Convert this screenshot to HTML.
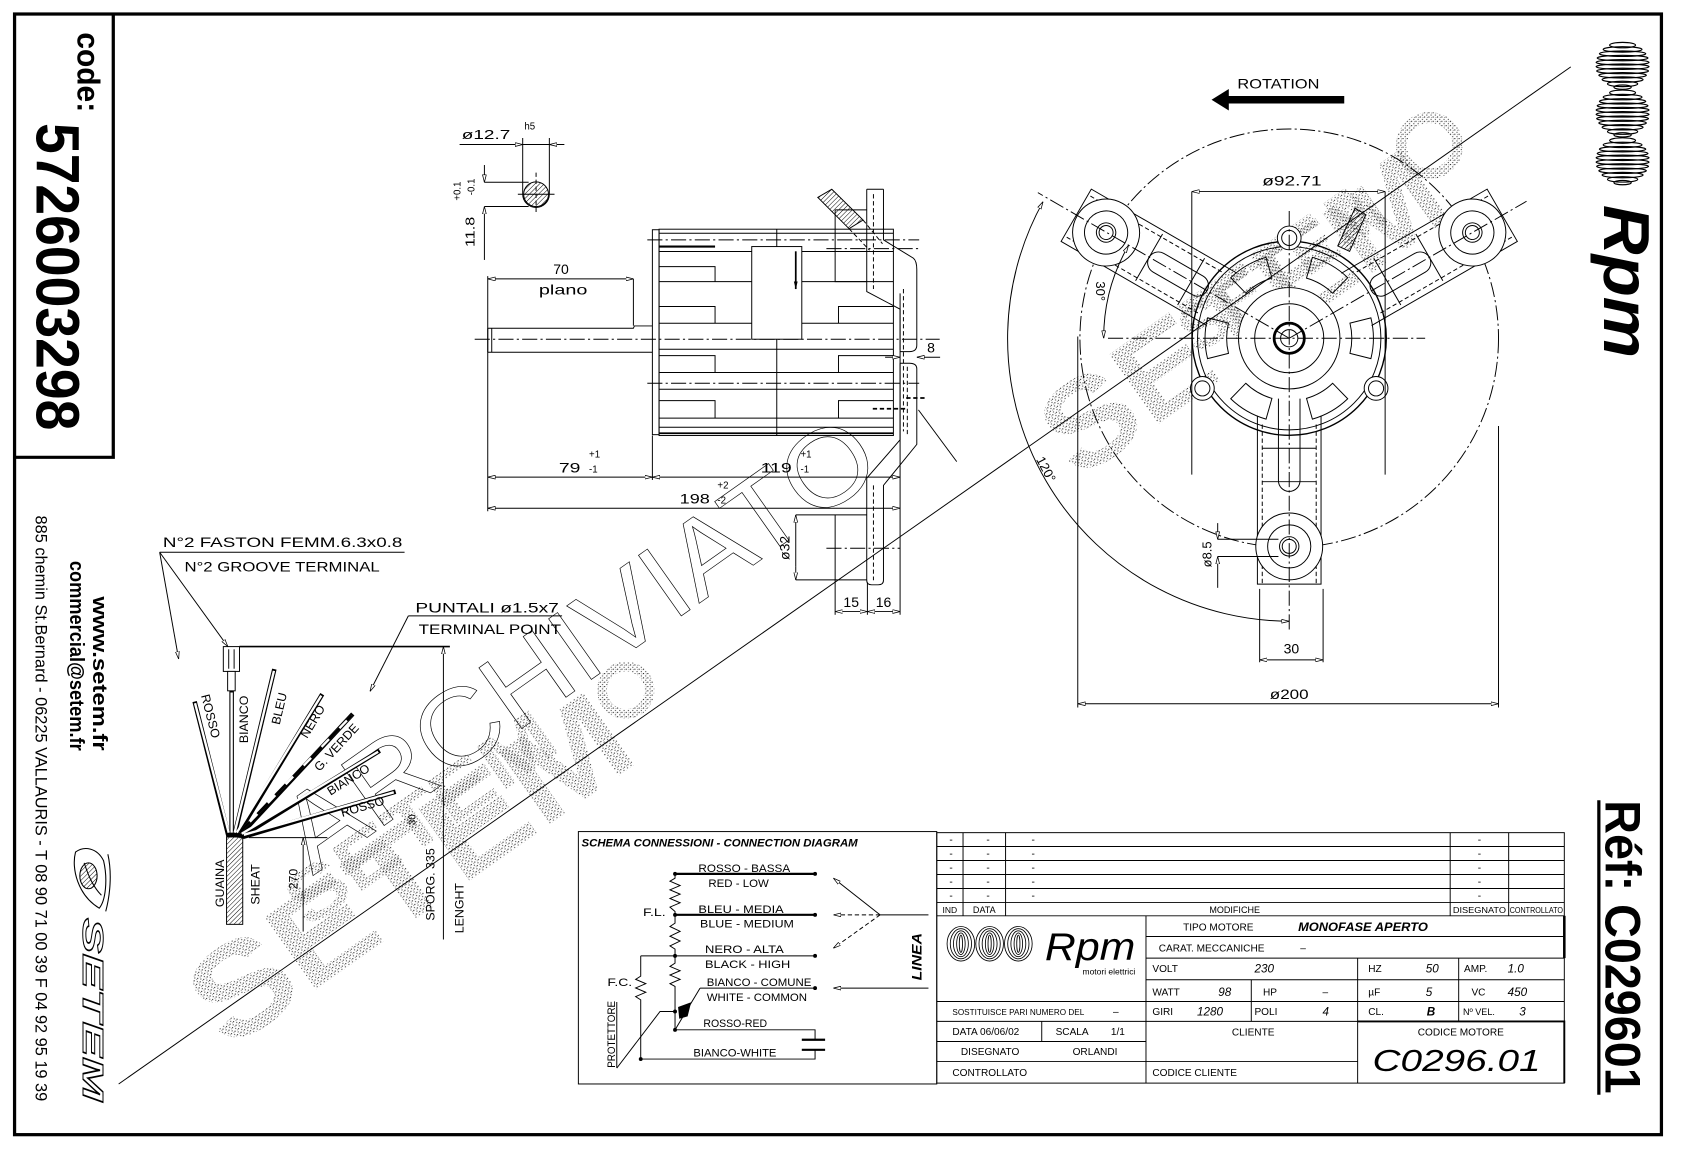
<!DOCTYPE html>
<html><head><meta charset="utf-8">
<style>
html,body{margin:0;padding:0;background:#fff;}
svg{display:block;}
text{font-family:"Liberation Sans",sans-serif;}
.dd{stroke-dasharray:14 3 2 3;}
.ds{stroke-dasharray:4 2.5;}
</style></head>
<body>
<svg xmlns="http://www.w3.org/2000/svg" width="1683" height="1153" viewBox="0 0 1560 1069" preserveAspectRatio="none">
<defs>
<pattern id="dots" width="4" height="4" patternUnits="userSpaceOnUse"><rect x="0" y="0" width="1" height="1" fill="#222"/><rect x="2" y="2.2" width="1" height="1" fill="#444"/><rect x="2.6" y="0.4" width="0.8" height="0.8" fill="#666"/></pattern>
<pattern id="hatch" width="3" height="3" patternUnits="userSpaceOnUse" patternTransform="rotate(45)"><line x1="0" y1="0" x2="0" y2="3" stroke="#000" stroke-width="0.9"/></pattern>
<marker id="ar" viewBox="0 0 10 6" refX="10" refY="3" markerWidth="7" markerHeight="4.2" orient="auto-start-reverse" markerUnits="userSpaceOnUse"><path d="M0,0.5 L10,3 L0,5.5 Z" fill="#fff" stroke="#000" stroke-width="1"/></marker>
<marker id="arf" viewBox="0 0 10 6" refX="10" refY="3" markerWidth="7" markerHeight="4.2" orient="auto-start-reverse" markerUnits="userSpaceOnUse"><path d="M0,0.5 L10,3 L0,5.5 Z" fill="#000"/></marker>
</defs>
<rect width="1560" height="1069" fill="#fff"/>

<!-- stippled watermark -->
<g font-weight="bold" fill="url(#dots)">
<text transform="translate(211,975) rotate(-35.2)" font-size="120" textLength="470" lengthAdjust="spacingAndGlyphs" font-family="Liberation Sans">SETEM</text>
<text transform="translate(285,862) rotate(-35.2)" font-size="70" textLength="290" lengthAdjust="spacingAndGlyphs" font-family="Liberation Sans">SETEM</text>
<text transform="translate(999,446) rotate(-35.2)" font-size="115" textLength="430" lengthAdjust="spacingAndGlyphs" font-family="Liberation Sans">SETEM</text>
<text transform="translate(1110,330) rotate(-35.2)" font-size="60" textLength="220" lengthAdjust="spacingAndGlyphs" font-family="Liberation Sans">SETEM</text>
</g>
<g fill="none" stroke="url(#dots)">
<circle cx="1325" cy="135" r="26" stroke-width="10"/>
<circle cx="580" cy="640" r="22" stroke-width="9"/>
</g>
<!-- outline watermark -->
<text transform="translate(290,812) rotate(-35.2)" font-size="100" textLength="650" lengthAdjust="spacingAndGlyphs" fill="none" stroke="#000" stroke-width="0.6">ARCHIVIATO</text>

<!-- frame -->
<g fill="none" stroke="#000">
<rect x="13.5" y="13" width="1526.5" height="1039" stroke-width="3"/>
<path d="M13.5,424 H105 V13" stroke-width="3"/>
<line x1="110" y1="1005" x2="1456" y2="62" stroke-width="0.9"/>
<line x1="1482" y1="742" x2="1482" y2="1015" stroke-width="3"/>
</g>

<!-- code box texts -->
<g font-weight="bold" fill="#000">
<text transform="translate(72,30) rotate(90)" font-size="29" textLength="74" lengthAdjust="spacingAndGlyphs">code:</text>
<text transform="translate(34,114) rotate(90)" font-size="57" textLength="285" lengthAdjust="spacingAndGlyphs">5726003298</text>
<text transform="translate(86,553) rotate(90)" font-size="19" textLength="143" lengthAdjust="spacingAndGlyphs">www.setem.fr</text>
<text transform="translate(65,520) rotate(90)" font-size="19" textLength="176" lengthAdjust="spacingAndGlyphs">commercial@setem.fr</text>
<text transform="translate(1488,742) rotate(90)" font-size="46" textLength="272" lengthAdjust="spacingAndGlyphs">Réf: C029601</text>
</g>
<text transform="translate(33,478) rotate(90)" font-size="15" textLength="543" lengthAdjust="spacingAndGlyphs" fill="#000">885 chemin St.Bernard - 06225 VALLAURIS - T 08 90 71 00 39  F 04 92 95 19 39</text>
<!-- setem logo -->
<g fill="none" stroke="#000" stroke-width="1">
<path d="M70,790 C66,805 72,830 92,842 C98,835 100,815 96,798 C90,786 78,784 70,790 Z"/>
<path d="M78,800 C82,812 86,822 94,830" />
<ellipse cx="82" cy="812" rx="8" ry="12" fill="url(#hatch)"/>
<path d="M100,792 C104,810 102,830 98,845"/>
</g>
<text transform="translate(77,851) rotate(90)" font-size="27" font-style="italic" font-weight="bold" textLength="170" lengthAdjust="spacingAndGlyphs" fill="#fff" stroke="#000" stroke-width="0.9">SETEM</text>

<!-- Rpm logo top right -->
<g fill="none" stroke="#000" stroke-width="1.1">
<g transform="translate(1504,60.8)">
<ellipse cx="0" cy="-19" rx="12" ry="2.5"/><ellipse cx="0" cy="-15" rx="18" ry="2.5"/><ellipse cx="0" cy="-11" rx="21.5" ry="2.5"/><ellipse cx="0" cy="-7" rx="23.5" ry="2.5"/><ellipse cx="0" cy="-3" rx="24.5" ry="2.5"/><ellipse cx="0" cy="1" rx="24.5" ry="2.5"/><ellipse cx="0" cy="5" rx="24" ry="2.5"/><ellipse cx="0" cy="9" rx="22" ry="2.5"/><ellipse cx="0" cy="13" rx="19" ry="2.5"/><ellipse cx="0" cy="17" rx="14" ry="2.5"/><ellipse cx="0" cy="20" rx="8" ry="2"/>
</g>
<g transform="translate(1504,105)">
<ellipse cx="0" cy="-19" rx="12" ry="2.5"/><ellipse cx="0" cy="-15" rx="18" ry="2.5"/><ellipse cx="0" cy="-11" rx="21.5" ry="2.5"/><ellipse cx="0" cy="-7" rx="23.5" ry="2.5"/><ellipse cx="0" cy="-3" rx="24.5" ry="2.5"/><ellipse cx="0" cy="1" rx="24.5" ry="2.5"/><ellipse cx="0" cy="5" rx="24" ry="2.5"/><ellipse cx="0" cy="9" rx="22" ry="2.5"/><ellipse cx="0" cy="13" rx="19" ry="2.5"/><ellipse cx="0" cy="17" rx="14" ry="2.5"/><ellipse cx="0" cy="20" rx="8" ry="2"/>
</g>
<g transform="translate(1504,149.3)">
<ellipse cx="0" cy="-19" rx="12" ry="2.5"/><ellipse cx="0" cy="-15" rx="18" ry="2.5"/><ellipse cx="0" cy="-11" rx="21.5" ry="2.5"/><ellipse cx="0" cy="-7" rx="23.5" ry="2.5"/><ellipse cx="0" cy="-3" rx="24.5" ry="2.5"/><ellipse cx="0" cy="1" rx="24.5" ry="2.5"/><ellipse cx="0" cy="5" rx="24" ry="2.5"/><ellipse cx="0" cy="9" rx="22" ry="2.5"/><ellipse cx="0" cy="13" rx="19" ry="2.5"/><ellipse cx="0" cy="17" rx="14" ry="2.5"/><ellipse cx="0" cy="20" rx="8" ry="2"/>
</g>
</g>
<text transform="translate(1487,190) rotate(90)" font-family="Liberation Serif" font-style="italic" font-weight="bold" font-size="60" textLength="142" lengthAdjust="spacingAndGlyphs" fill="#000">Rpm</text>

<!-- ===== shaft detail ø12.7 ===== -->
<g fill="none" stroke="#000" stroke-width="0.9">
<line x1="426" y1="134" x2="523" y2="134"/>
<line x1="470" y1="134" x2="484.5" y2="134" marker-end="url(#ar)"/>
<line x1="523" y1="134" x2="509.2" y2="134" marker-end="url(#ar)"/>
<path d="M484.5,128 V180 A12.35,12.35 0 0 0 509.2,180 V128"/>
<circle cx="496.9" cy="180.1" r="11.5" fill="url(#hatch)"/>
<line x1="496.9" y1="160" x2="496.9" y2="198" class="ds"/>
<line x1="480" y1="180.1" x2="514" y2="180.1"/>
<line x1="449" y1="169" x2="490" y2="169"/>
<line x1="449" y1="191.5" x2="490" y2="191.5"/>
<line x1="449" y1="153" x2="449" y2="169" marker-end="url(#ar)"/>
<line x1="449" y1="241" x2="449" y2="191.5" marker-end="url(#ar)"/>
</g>
<g fill="#000" font-size="12">
<text x="428" y="129" textLength="45" lengthAdjust="spacingAndGlyphs">ø12.7</text>
<text x="486" y="120" font-size="9">h5</text>
<text transform="translate(440,229) rotate(-90)" textLength="28" lengthAdjust="spacingAndGlyphs">11.8</text>
<text transform="translate(427,186) rotate(-90)" font-size="9">+0.1</text>
<text transform="translate(440,181) rotate(-90)" font-size="9">-0.1</text>
</g>

<!-- ===== side view motor ===== -->
<g fill="none" stroke="#000" stroke-width="0.9">
<path d="M452.1,304.3 H587.1 L588,302.2 H604.7 M452.1,326.6 H604.7 M452.1,304.3 V326.6 M455.8,304.3 V326.6"/>
<line x1="440" y1="314.5" x2="871" y2="314.5" class="dd"/>
<line x1="452.1" y1="258.6" x2="587.1" y2="258.6" marker-start="url(#ar)" marker-end="url(#ar)"/>
<line x1="587.1" y1="258.6" x2="587.1" y2="302"/>
<line x1="452.1" y1="256" x2="452.1" y2="474"/>
<rect x="604.7" y="213" width="6.2" height="190"/>
<rect x="610.9" y="212.5" width="217.2" height="191.3"/>
<line x1="610.9" y1="216.3" x2="828.1" y2="216.3"/>
<line x1="600" y1="222.4" x2="852" y2="222.4" class="dd"/>
<line x1="600" y1="355.3" x2="852" y2="355.3" class="dd"/>
<line x1="610.9" y1="228.6" x2="662.8" y2="228.6" stroke-width="2"/>
<line x1="610.9" y1="233.2" x2="828.1" y2="233.2"/>
<line x1="610.9" y1="261.1" x2="828.1" y2="261.1"/>
<line x1="610.9" y1="299.7" x2="828.1" y2="299.7"/>
<line x1="610.9" y1="323.8" x2="828.1" y2="323.8"/>
<line x1="610.9" y1="345.4" x2="828.1" y2="345.4"/>
<line x1="610.9" y1="360.9" x2="828.1" y2="360.9"/>
<line x1="610.9" y1="387.7" x2="828.1" y2="387.7"/>
<line x1="610.9" y1="396.1" x2="828.1" y2="396.1"/>
<line x1="610.9" y1="401.7" x2="828.1" y2="401.7" stroke-width="1.6"/>
<path d="M610.9,247.2 H662.8 V261.1"/>
<path d="M610.9,284.2 H662.8 V299.7"/>
<path d="M610.9,329.7 H662.8 V345.4"/>
<path d="M610.9,371.4 H662.8 V387.7"/>
<path d="M828.1,284.2 H777.2 V299.7"/>
<path d="M828.1,329.7 H777.2 V345.4"/>
<path d="M828.1,371.4 H777.2 V387.7"/>
<line x1="720" y1="212.5" x2="720" y2="403.8"/>
<rect x="696.8" y="228.6" width="46.4" height="85.9" fill="#fff"/>
<line x1="737.6" y1="233" x2="737.6" y2="268" stroke-width="1.6" marker-end="url(#arf)"/>
<path d="M803.4,175.5 H818.9 M803.4,175.5 V270.3 L834.3,286.7 V324.4"/>
<path d="M818.9,175.5 V222.4 L846.7,239.4 Q849.8,242 849.8,250 V320 Q849.8,326 843,326 H834.3"/>
<line x1="809.6" y1="180" x2="809.6" y2="268" class="ds"/>
<path d="M834.3,336.8 V407.8 L803.4,443.4 V538 Q803.4,542.2 808,542.2 H814 Q818.9,542.2 818.9,538 V450 L849.8,412 V342 Q849.8,336.8 843,336.8 H834.3"/>
<line x1="841" y1="340" x2="841" y2="405" class="ds"/>
<line x1="809.6" y1="450" x2="809.6" y2="538" class="ds"/>
<line x1="837.4" y1="268" x2="837.4" y2="400" class="ds"/>
<line x1="834.3" y1="272" x2="834.3" y2="570"/>
<path d="M774.1,194.6 V261.1 H803.4 M774.1,194.6 H803.4"/>
<line x1="766" y1="230.5" x2="852" y2="230.5" class="dd"/>
<polygon points="758,183 771,175.5 800,204 787,212" fill="url(#hatch)"/>
<line x1="787" y1="212" x2="806" y2="232" class="ds"/>
<line x1="800" y1="204" x2="818" y2="226" class="ds"/>
<line x1="820.4" y1="331.2" x2="834.3" y2="331.2" marker-end="url(#ar)"/>
<line x1="871.4" y1="331.2" x2="849.8" y2="331.2" marker-end="url(#ar)"/>
<line x1="851.3" y1="380" x2="886.8" y2="428"/>
<line x1="840" y1="369" x2="857" y2="369" stroke-width="1.6" class="ds"/>
<line x1="809" y1="379" x2="840" y2="379" stroke-width="1.6" class="ds"/>
<line x1="452.1" y1="442.4" x2="604.7" y2="442.4" marker-start="url(#ar)" marker-end="url(#ar)"/>
<line x1="604.7" y1="442.4" x2="834.3" y2="442.4" marker-start="url(#ar)" marker-end="url(#ar)"/>
<line x1="452.1" y1="471.2" x2="834.3" y2="471.2" marker-start="url(#ar)" marker-end="url(#ar)"/>
<line x1="604.7" y1="403.8" x2="604.7" y2="445"/>
<line x1="737.6" y1="477.4" x2="803.4" y2="477.4"/>
<line x1="737.6" y1="537.6" x2="803.4" y2="537.6"/>
<line x1="737.6" y1="490" x2="737.6" y2="477.4" marker-end="url(#ar)"/>
<line x1="737.6" y1="525" x2="737.6" y2="537.6" marker-end="url(#ar)"/>
<line x1="737.6" y1="490" x2="737.6" y2="525"/>
<line x1="774.1" y1="477.4" x2="774.1" y2="570"/>
<line x1="766" y1="508.3" x2="834.3" y2="508.3" class="dd"/>
<line x1="774.1" y1="567" x2="804" y2="567" marker-start="url(#ar)" marker-end="url(#ar)"/>
<line x1="804" y1="567" x2="834.3" y2="567" marker-start="url(#ar)" marker-end="url(#ar)"/>
<line x1="804" y1="540" x2="804" y2="570"/>
</g>
<g fill="#000" font-size="13">
<text x="520" y="254" text-anchor="middle">70</text>
<text x="522" y="273" text-anchor="middle" textLength="45" lengthAdjust="spacingAndGlyphs">plano</text>
<text x="863" y="327" text-anchor="middle">8</text>
<text x="538" y="438" text-anchor="end" textLength="20" lengthAdjust="spacingAndGlyphs">79</text>
<text x="546" y="424" font-size="9">+1</text><text x="546" y="438" font-size="9">-1</text>
<text x="734" y="438" text-anchor="end" textLength="29" lengthAdjust="spacingAndGlyphs">119</text>
<text x="742" y="424" font-size="9">+1</text><text x="742" y="438" font-size="9">-1</text>
<text x="658" y="467" text-anchor="end" textLength="28" lengthAdjust="spacingAndGlyphs">198</text>
<text x="665" y="453" font-size="9">+2</text><text x="665" y="467" font-size="9">-2</text>
<text transform="translate(732,508) rotate(-90)" text-anchor="middle">ø32</text>
<text x="789" y="563" text-anchor="middle">15</text>
<text x="819" y="563" text-anchor="middle">16</text>
</g>

<!-- ===== end view ===== -->
<g fill="none" stroke="#000" stroke-width="0.9">
<g transform="translate(1195,313.6)">
<circle r="194" class="dd"/>
<g transform="rotate(210)">
<path d="M72,-28 H228 V28 H72"/>
<line x1="85" y1="-22" x2="228" y2="-22" class="ds"/><line x1="85" y1="22" x2="228" y2="22" class="ds"/>
<path d="M98,-10 H140 A10,10 0 0 1 140,10 H98 A10,10 0 0 1 98,-10 Z"/>
<line x1="105" y1="-25" x2="105" y2="25"/><line x1="150" y1="-25" x2="150" y2="25"/>
<circle cx="196" r="31" fill="#fff"/><circle cx="196" r="20"/><circle cx="196" r="9"/><circle cx="196" r="6.5"/>
</g>
<g transform="rotate(-30)">
<path d="M72,-28 H228 V28 H72"/>
<line x1="85" y1="-22" x2="228" y2="-22" class="ds"/><line x1="85" y1="22" x2="228" y2="22" class="ds"/>
<path d="M98,-10 H140 A10,10 0 0 1 140,10 H98 A10,10 0 0 1 98,-10 Z"/>
<line x1="105" y1="-25" x2="105" y2="25"/><line x1="150" y1="-25" x2="150" y2="25"/>
<circle cx="196" r="31" fill="#fff"/><circle cx="196" r="20"/><circle cx="196" r="9"/><circle cx="196" r="6.5"/>
</g>
<g transform="rotate(90)">
<path d="M72,-29.5 H228 V29.5 H72"/>
<line x1="80" y1="-25" x2="228" y2="-25" class="ds"/><line x1="80" y1="25" x2="228" y2="25" class="ds"/>
<path d="M56,-10 H132 A10,10 0 0 1 132,10 H56"/>
<line x1="102" y1="-25" x2="102" y2="25"/><line x1="133" y1="-25" x2="133" y2="25"/>
<circle cx="193" r="31" fill="#fff"/><circle cx="193" r="20"/><circle cx="193" r="9"/><circle cx="193" r="6.5"/>
</g>
<circle r="90" stroke-width="1.3"/>
<circle r="85"/>
<g>
<path transform="rotate(0)" d="M56.3,-14 A58,58 0 0 1 56.3,14 L75.7,18.9 A78,78 0 0 0 75.7,-18.9 Z"/>
<path transform="rotate(60)" d="M56.3,-14 A58,58 0 0 1 56.3,14 L75.7,18.9 A78,78 0 0 0 75.7,-18.9 Z"/>
<path transform="rotate(120)" d="M56.3,-14 A58,58 0 0 1 56.3,14 L75.7,18.9 A78,78 0 0 0 75.7,-18.9 Z"/>
<path transform="rotate(180)" d="M56.3,-14 A58,58 0 0 1 56.3,14 L75.7,18.9 A78,78 0 0 0 75.7,-18.9 Z"/>
<path transform="rotate(240)" d="M56.3,-14 A58,58 0 0 1 56.3,14 L75.7,18.9 A78,78 0 0 0 75.7,-18.9 Z"/>
<path transform="rotate(300)" d="M56.3,-14 A58,58 0 0 1 56.3,14 L75.7,18.9 A78,78 0 0 0 75.7,-18.9 Z"/>
</g>
<circle r="47" fill="#fff"/>
<circle r="32"/>
<circle r="14" stroke-width="2.6"/>
<circle r="8"/>
<circle cx="0" cy="-93" r="11" fill="#fff"/><circle cx="0" cy="-93" r="7"/>
<circle cx="-80.5" cy="46.5" r="11" fill="#fff"/><circle cx="-80.5" cy="46.5" r="7"/>
<circle cx="80.5" cy="46.5" r="11" fill="#fff"/><circle cx="80.5" cy="46.5" r="7"/>
<line x1="-168" y1="0" x2="126" y2="0" class="dd"/>
<line x1="0" y1="-118" x2="0" y2="270" class="dd"/>
<line x1="0" y1="0" x2="-233" y2="-135" class="dd"/>
<line x1="0" y1="0" x2="220" y2="-127" class="dd"/>
</g>
<line x1="1104.7" y1="177.6" x2="1104.7" y2="440"/>
<line x1="1283.9" y1="177.6" x2="1283.9" y2="440"/>
<line x1="1104.7" y1="177.6" x2="1283.9" y2="177.6" marker-start="url(#ar)" marker-end="url(#ar)"/>
<line x1="999" y1="312" x2="999" y2="656"/>
<line x1="1389" y1="395" x2="1389" y2="656"/>
<line x1="999" y1="652.5" x2="1389" y2="652.5" marker-start="url(#ar)" marker-end="url(#ar)"/>
<line x1="1167.6" y1="546" x2="1167.6" y2="614"/>
<line x1="1226.4" y1="546" x2="1226.4" y2="614"/>
<line x1="1167.6" y1="611.8" x2="1226.4" y2="611.8" marker-start="url(#ar)" marker-end="url(#ar)"/>
<line x1="1128.7" y1="500" x2="1185" y2="500"/>
<line x1="1128.7" y1="516" x2="1185" y2="516"/>
<line x1="1128.7" y1="485" x2="1128.7" y2="500" marker-end="url(#ar)"/>
<line x1="1128.7" y1="545" x2="1128.7" y2="516" marker-end="url(#ar)"/>
<path d="M966.8,187 A262,262 0 0 0 1195,576" marker-start="url(#ar)" marker-end="url(#ar)"/>
<path d="M1023,313.6 A172,172 0 0 1 1046,227.6" marker-start="url(#ar)" marker-end="url(#ar)"/>
<polygon points="1240,228 1251,233 1266,199 1256,193" fill="url(#hatch)"/>
<polygon points="1123,92.5 1139,82.5 1139,89 1246,89 1246,96 1139,96 1139,102.5" fill="#000" stroke="none"/>
</g>
<g fill="#000" font-size="13">
<text x="1147" y="82" textLength="76" lengthAdjust="spacingAndGlyphs">ROTATION</text>
<text x="1170" y="172" textLength="55" lengthAdjust="spacingAndGlyphs">ø92.71</text>
<text x="1195" y="648" text-anchor="middle" textLength="36" lengthAdjust="spacingAndGlyphs">ø200</text>
<text x="1197" y="606" text-anchor="middle">30</text>
<text transform="translate(1123,514) rotate(-90)" text-anchor="middle" font-size="12">ø8.5</text>
<text transform="translate(1016,270) rotate(90)" text-anchor="middle" font-size="12">30°</text>
<text transform="translate(966,437) rotate(62)" text-anchor="middle" font-size="12">120°</text>
</g>

<!-- ===== harness ===== -->
<g fill="none" stroke="#000" stroke-width="0.9">
<line x1="148" y1="512" x2="375" y2="512"/>
<line x1="148" y1="512" x2="165.6" y2="611" marker-end="url(#ar)"/>
<line x1="148" y1="512" x2="211.2" y2="599.5" marker-end="url(#ar)"/>
<line x1="378.5" y1="571" x2="521" y2="571"/>
<line x1="378.5" y1="571" x2="343" y2="641" marker-end="url(#ar)"/>
<line x1="222" y1="599.5" x2="417" y2="599.5" stroke-width="1.5"/>
<line x1="411" y1="871" x2="411" y2="599.5" marker-end="url(#ar)"/>
<rect x="207" y="599.5" width="15" height="23" fill="#fff"/>
<line x1="212" y1="602" x2="212" y2="620"/><line x1="217" y1="602" x2="217" y2="620"/>
<rect x="211" y="622.5" width="7" height="18" fill="#fff"/>
<line x1="230.7" y1="776.6" x2="303.4" y2="776.6"/>
<line x1="281" y1="863.7" x2="281" y2="776.6" marker-end="url(#ar)"/>
</g>
<g stroke-linecap="butt">
<g stroke="#000" stroke-width="4.2">
<line x1="212" y1="776" x2="180.4" y2="650.5"/>
<line x1="214.7" y1="776" x2="214.7" y2="640.5"/>
<line x1="217" y1="776" x2="254.3" y2="620.4"/>
<line x1="219" y1="776" x2="298.7" y2="643.6"/>
<line x1="221" y1="776" x2="327" y2="662"/>
<line x1="223" y1="776" x2="352" y2="696"/>
<line x1="225" y1="776" x2="366.7" y2="734"/>
</g>
<g stroke="#fff" stroke-width="2.2">
<line x1="212" y1="772" x2="180.8" y2="652"/>
<line x1="214.7" y1="772" x2="214.7" y2="642"/>
<line x1="217.5" y1="772" x2="253.9" y2="622"/>
<line x1="219.5" y1="772" x2="297.8" y2="645"/>
<line x1="222" y1="772" x2="326" y2="663.3"/>
<line x1="224" y1="773" x2="350.5" y2="697"/>
<line x1="226" y1="774" x2="365" y2="734.6"/>
</g>
<line x1="222" y1="772" x2="326" y2="663.3" stroke="#000" stroke-width="2.4" stroke-dasharray="14 10"/>
</g>
<rect x="210" y="776" width="15" height="81" fill="url(#hatch)" stroke="#000" stroke-width="0.9"/>
<g fill="#000" font-size="12.5">
<text x="151" y="507" textLength="222" lengthAdjust="spacingAndGlyphs">N°2 FASTON FEMM.6.3x0.8</text>
<text x="171" y="530" textLength="181" lengthAdjust="spacingAndGlyphs">N°2 GROOVE TERMINAL</text>
<text x="385" y="568" textLength="133" lengthAdjust="spacingAndGlyphs">PUNTALI ø1.5x7</text>
<text x="388" y="588" textLength="132" lengthAdjust="spacingAndGlyphs">TERMINAL POINT</text>
<g font-size="11.5" text-anchor="middle" dominant-baseline="central">
<text transform="translate(195,664) rotate(75.7)">ROSSO</text>
<text transform="translate(226,667) rotate(-90)">BIANCO</text>
<text transform="translate(259,657) rotate(-77)">BLEU</text>
<text transform="translate(290,669) rotate(-59.3)">NERO</text>
<text transform="translate(312,693) rotate(-47.4)">G. VERDE</text>
<text transform="translate(323,723) rotate(-32)">BIANCO</text>
<text transform="translate(336,748) rotate(-16.6)">ROSSO</text>
<text transform="translate(204,819) rotate(-90)">GUAINA</text>
<text transform="translate(237,820) rotate(-90)">SHEAT</text>
<text transform="translate(272,815) rotate(-90)">270</text>
<text transform="translate(399,820) rotate(-90)">SPORG. 335</text>
<text transform="translate(383,760) rotate(-90)" font-size="9">30</text>
<text transform="translate(426,842) rotate(-90)">LENGHT</text>
</g>
</g>

<!-- ===== connection diagram ===== -->
<g fill="none" stroke="#000" stroke-width="0.9">
<rect x="536.1" y="771" width="332.2" height="234"/>
<line x1="625.7" y1="810.2" x2="755.5" y2="810.2" stroke-width="2"/>
<line x1="625.7" y1="848.2" x2="755.5" y2="848.2" stroke-width="2"/>
<line x1="593.9" y1="886.2" x2="755.5" y2="886.2"/>
<line x1="648.9" y1="916.1" x2="755.5" y2="916.1"/>
<path d="M625.7,810.2 V814.2 L621,817 L630.4,821 L621,825 L630.4,829 L621,833 L630.4,837 L621,841 L625.7,845.1 V848.2"/>
<path d="M625.7,848.2 V855.9 L621,859 L630.4,863.5 L621,868 L630.4,872.5 L621,877 L625.7,880 V888.3"/>
<path d="M625.7,886.2 V893 L621,896 L630.4,900 L621,904 L630.4,908 L621,912 L625.7,914.6 V954.8"/>
<path d="M593.9,886.2 V905 L589.2,908 L598.6,912 L589.2,916 L598.6,920 L589.2,924 L593.9,927 V981.9 H755.5 V973.3"/>
<path d="M625.7,954.8 H755.5 V964"/>
<line x1="743.2" y1="964" x2="764.8" y2="964" stroke-width="2"/>
<line x1="743.2" y1="973.3" x2="764.8" y2="973.3" stroke-width="2"/>
<path d="M571.7,990.3 L611.8,937.8 H625.7"/>
<line x1="625.7" y1="954.8" x2="648.9" y2="916.1"/>
<polygon points="629,934 640,930 637,942 630,944" fill="#000"/>
<line x1="571.7" y1="929" x2="571.7" y2="990"/>
<line x1="815.8" y1="848.2" x2="860.6" y2="848.2"/>
<line x1="815.8" y1="848.2" x2="772.5" y2="814.2" marker-end="url(#ar)"/>
<line x1="815.8" y1="848.2" x2="772.5" y2="848.2" class="ds" marker-end="url(#ar)"/>
<line x1="815.8" y1="848.2" x2="772.5" y2="879.1" class="ds" marker-end="url(#ar)"/>
<line x1="860.6" y1="916.1" x2="772.5" y2="916.1" marker-end="url(#ar)"/>
</g>
<g fill="#000">
<circle cx="625.7" cy="810.2" r="1.8"/><circle cx="755.5" cy="810.2" r="1.8"/>
<circle cx="625.7" cy="848.2" r="1.8"/><circle cx="755.5" cy="848.2" r="1.8"/>
<circle cx="625.7" cy="886.2" r="1.8"/><circle cx="755.5" cy="886.2" r="1.8"/>
<circle cx="755.5" cy="916.1" r="1.8"/><circle cx="625.7" cy="937.8" r="1.8"/>
<circle cx="625.7" cy="954.8" r="1.8"/><circle cx="593.9" cy="981.9" r="1.8"/>
<text x="539" y="785" font-family="Liberation Serif" font-style="italic" font-weight="bold" font-size="10.5" textLength="256" lengthAdjust="spacingAndGlyphs">SCHEMA CONNESSIONI - CONNECTION DIAGRAM</text>
<g font-size="10.5">
<text x="647.4" y="808.5" textLength="85" lengthAdjust="spacingAndGlyphs">ROSSO - BASSA</text>
<text x="656.6" y="822.5" textLength="56" lengthAdjust="spacingAndGlyphs">RED - LOW</text>
<text x="647.4" y="846.5" textLength="79" lengthAdjust="spacingAndGlyphs">BLEU - MEDIA</text>
<text x="648.9" y="860" textLength="87" lengthAdjust="spacingAndGlyphs">BLUE - MEDIUM</text>
<text x="653.5" y="883.5" textLength="73" lengthAdjust="spacingAndGlyphs">NERO - ALTA</text>
<text x="653.5" y="897.5" textLength="79" lengthAdjust="spacingAndGlyphs">BLACK - HIGH</text>
<text x="655.1" y="914.3" textLength="97" lengthAdjust="spacingAndGlyphs">BIANCO - COMUNE</text>
<text x="655.1" y="928" textLength="93" lengthAdjust="spacingAndGlyphs">WHITE - COMMON</text>
<text x="652" y="952" textLength="59" lengthAdjust="spacingAndGlyphs">ROSSO-RED</text>
<text x="642.7" y="979.5" textLength="77" lengthAdjust="spacingAndGlyphs">BIANCO-WHITE</text>
<text x="596" y="849.5" textLength="21" lengthAdjust="spacingAndGlyphs">F.L.</text>
<text x="563" y="914" textLength="23" lengthAdjust="spacingAndGlyphs">F.C.</text>
<text transform="translate(570,990) rotate(-90)" textLength="62" lengthAdjust="spacingAndGlyphs">PROTETTORE</text>
</g>
<text transform="translate(854,909) rotate(-90)" font-family="Liberation Serif" font-style="italic" font-weight="bold" font-size="13" textLength="44" lengthAdjust="spacingAndGlyphs">LINEA</text>
</g>

<!-- ===== title block ===== -->
<g transform="translate(868.3,0) scale(0.9859,1) translate(-868.3,0)">
<g fill="none" stroke="#000" stroke-width="0.9">
<rect x="868.3" y="772" width="590" height="232.2"/>
<path d="M868.3,784.8 H1458.3 M868.3,797.8 H1458.3 M868.3,810.8 H1458.3 M868.3,823.8 H1458.3 M868.3,836.7 H1458.3 M868.3,849.1 H1458.3"/>
<path d="M893,772 V849.1 M933,772 V849.1 M1351,772 V849.1 M1406,772 V849.1"/>
<line x1="1065" y1="849.1" x2="1065" y2="1004.2"/>
<line x1="1065" y1="868.3" x2="1458.3" y2="868.3"/>
<line x1="1065" y1="888.3" x2="1458.3" y2="888.3"/>
<line x1="1065" y1="908.4" x2="1458.3" y2="908.4"/>
<line x1="868.3" y1="928.5" x2="1458.3" y2="928.5"/>
<line x1="868.3" y1="947" x2="1458.3" y2="947"/>
<line x1="868.3" y1="965.6" x2="1065" y2="965.6"/>
<line x1="868.3" y1="984.1" x2="1264" y2="984.1"/>
<line x1="967" y1="947" x2="967" y2="965.6"/>
<line x1="1164" y1="908.4" x2="1164" y2="947"/>
<line x1="1264" y1="888.3" x2="1264" y2="1004.2"/>
<line x1="1359" y1="888.3" x2="1359" y2="947"/>
<line x1="1458.3" y1="849.1" x2="1458.3" y2="888.3" stroke-width="2.4"/>
<path d="M1264,947 H1458.3 V1004.2" stroke-width="1.8"/>
<g stroke-width="0.8">
<g transform="translate(891,875)"><ellipse rx="13" ry="16"/><ellipse rx="10" ry="14"/><ellipse rx="7" ry="12"/><ellipse rx="4" ry="10"/><ellipse rx="1.5" ry="8"/></g>
<g transform="translate(918,875)"><ellipse rx="13" ry="16"/><ellipse rx="10" ry="14"/><ellipse rx="7" ry="12"/><ellipse rx="4" ry="10"/><ellipse rx="1.5" ry="8"/></g>
<g transform="translate(945,875)"><ellipse rx="13" ry="16"/><ellipse rx="10" ry="14"/><ellipse rx="7" ry="12"/><ellipse rx="4" ry="10"/><ellipse rx="1.5" ry="8"/></g>
</g>
</g>
<g fill="#000" font-size="9.5">
<g text-anchor="middle">
<text x="881.7" y="781.6">-</text><text x="916.5" y="781.6">-</text><text x="959" y="781.6">-</text><text x="1378.5" y="781.6">-</text>
<text x="881.7" y="794.6">-</text><text x="916.5" y="794.6">-</text><text x="959" y="794.6">-</text><text x="1378.5" y="794.6">-</text>
<text x="881.7" y="807.6">-</text><text x="916.5" y="807.6">-</text><text x="959" y="807.6">-</text><text x="1378.5" y="807.6">-</text>
<text x="881.7" y="820.6">-</text><text x="916.5" y="820.6">-</text><text x="959" y="820.6">-</text><text x="1378.5" y="820.6">-</text>
<text x="881.7" y="833.5">-</text><text x="916.5" y="833.5">-</text><text x="959" y="833.5">-</text><text x="1378.5" y="833.5">-</text>
<text x="880.6" y="846.7" font-size="8">IND</text>
<text x="913" y="846.7" font-size="8.5">DATA</text>
<text x="1148.4" y="846.7" font-size="8.5">MODIFICHE</text>
<text x="1378.5" y="846.7" font-size="7.5" textLength="50" lengthAdjust="spacingAndGlyphs">DISEGNATO</text>
<text x="1432" y="846.7" font-size="7.5" textLength="50" lengthAdjust="spacingAndGlyphs">CONTROLLATO</text>
<text x="1133" y="862.5">TIPO MOTORE</text>
<text x="1165.8" y="960">CLIENTE</text>
<text x="1361" y="960">CODICE MOTORE</text>
</g>
<text x="1208" y="863" font-family="Liberation Serif" font-style="italic" font-weight="bold" font-size="11.5" textLength="122" lengthAdjust="spacingAndGlyphs">MONOFASE APERTO</text>
<text x="970" y="890" font-family="Liberation Serif" font-style="italic" font-size="36" textLength="85" lengthAdjust="spacingAndGlyphs">Rpm</text>
<text x="1055" y="903.5" text-anchor="end" font-size="8">motori elettrici</text>
<text x="1077" y="882">CARAT. MECCANICHE</text><text x="1210" y="882">–</text>
<text x="1071" y="901">VOLT</text>
<text x="1167" y="901.5" font-style="italic" font-size="11">230</text>
<text x="1274" y="901">HZ</text>
<text x="1328" y="901.5" font-style="italic" font-size="11">50</text>
<text x="1364" y="901">AMP.</text>
<text x="1405" y="901.5" font-style="italic" font-size="11">1.0</text>
<text x="1071" y="923">WATT</text>
<text x="1133" y="923.5" font-style="italic" font-size="11">98</text>
<text x="1175" y="923">HP</text>
<text x="1231" y="923">–</text>
<text x="1274" y="923">µF</text>
<text x="1328" y="923.5" font-style="italic" font-size="11">5</text>
<text x="1371" y="923">VC</text>
<text x="1405" y="923.5" font-style="italic" font-size="11">450</text>
<text x="1071" y="941">GIRI</text>
<text x="1113" y="941.5" font-style="italic" font-size="11">1280</text>
<text x="1167" y="941">POLI</text>
<text x="1231" y="941.5" font-style="italic" font-size="11">4</text>
<text x="1274" y="941">CL.</text>
<text x="1329" y="941.5" font-style="italic" font-weight="bold" font-size="11">B</text>
<text x="1363" y="941" font-size="8.5">Nº VEL.</text>
<text x="1416" y="941.5" font-style="italic" font-size="11">3</text>
<text x="883" y="941" font-size="8" textLength="124" lengthAdjust="spacingAndGlyphs">SOSTITUISCE PARI NUMERO DEL</text>
<text x="1034" y="941">–</text>
<text x="883" y="959.5">DATA  06/06/02</text>
<text x="980" y="959.5">SCALA</text>
<text x="1032" y="959.5">1/1</text>
<text x="891" y="978">DISEGNATO</text>
<text x="996" y="978">ORLANDI</text>
<text x="883" y="997.5">CONTROLLATO</text>
<text x="1071" y="997.5">CODICE CLIENTE</text>
<text x="1278" y="993" font-style="italic" font-size="28" textLength="158" lengthAdjust="spacingAndGlyphs">C0296.01</text>
</g>
</g>
</svg>
</body></html>
